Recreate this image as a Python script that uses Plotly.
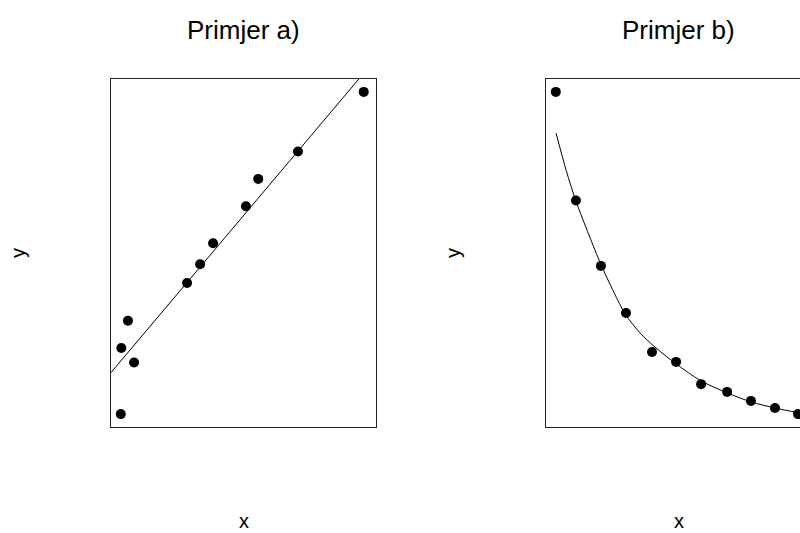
import plotly.graph_objects as go

# ---- data ----
# Example a) : scatter with a fitted straight line
a_x = [0.00, 0.02, 0.29, 0.54, 2.70, 3.23, 3.76, 5.10, 5.60, 7.22, 9.90]
a_y = [0.00, 2.05, 2.90, 1.60, 4.07, 4.65, 5.30, 6.45, 7.30, 8.15, 10.00]
a_intercept = 1.65
a_slope = 0.902

# Example b) : scatter with a fitted decaying curve
b_x = [1.00, 1.82, 2.84, 3.86, 4.92, 5.90, 6.92, 7.98, 8.95, 9.93, 10.87]
b_y = [10.00, 6.63, 4.60, 3.14, 1.93, 1.62, 0.93, 0.69, 0.41, 0.19, 0.00]
curve_x = [1.01, 1.42, 1.82, 2.35, 2.83, 3.36, 3.85, 4.43, 5.04, 5.90, 6.92, 7.98, 8.95, 9.93, 10.95, 11.40]
curve_y = [8.72, 7.57, 6.61, 5.56, 4.66, 3.79, 3.08, 2.52, 2.08, 1.56, 1.03, 0.66, 0.38, 0.19, 0.03, -0.06]

titles = ["Primjer a)", "Primjer b)"]
x_label = "x"
y_label = "y"

# axis ranges (R-style 4% padding)
a_xrange = [-0.4, 10.4]
b_xrange = [0.6, 10.95]
yrange = [-0.4, 10.4]

W, H = 800, 533
FONT = "Liberation Sans, Arial, sans-serif"


def px(v):
    return v / W


def py(v):
    return 1 - v / H


fig = go.Figure()

fig.add_trace(go.Scatter(
    x=a_x, y=a_y, mode="markers", xaxis="x", yaxis="y",
    marker=dict(color="black", size=10), showlegend=False, cliponaxis=True))
line_x = a_xrange
line_y = [a_intercept + a_slope * v for v in line_x]
fig.add_trace(go.Scatter(
    x=line_x, y=line_y, mode="lines", xaxis="x", yaxis="y",
    line=dict(color="black", width=1), showlegend=False))

fig.add_trace(go.Scatter(
    x=curve_x, y=curve_y, mode="lines", xaxis="x2", yaxis="y2",
    line=dict(color="black", width=1, shape="spline", smoothing=0.8), showlegend=False))
fig.add_trace(go.Scatter(
    x=b_x, y=b_y, mode="markers", xaxis="x2", yaxis="y2",
    marker=dict(color="black", size=10), showlegend=False, cliponaxis=True))

box_top, box_bot = 79, 427
ydom = [py(box_bot), py(box_top)]
ax_common = dict(showgrid=False, zeroline=False, showticklabels=False, ticks="",
                 showline=True, linecolor="#222", linewidth=1, fixedrange=True)

fig.update_layout(
    width=W, height=H,
    margin=dict(l=0, r=0, t=0, b=0),
    paper_bgcolor="white", plot_bgcolor="white",
    hovermode=False,
    xaxis=dict(domain=[px(111), px(376)], range=a_xrange, mirror=True, anchor="y", **ax_common),
    yaxis=dict(domain=ydom, range=yrange, mirror=True, anchor="x", **ax_common),
    xaxis2=dict(domain=[px(546), 1.0], range=b_xrange, mirror=True, anchor="y2", **ax_common),
    yaxis2=dict(domain=ydom, range=yrange, mirror=False, anchor="x2", **ax_common),
)

centers = [(111 + 376) / 2, (546 + 811) / 2]
left_edges = [111, 546]
ann = []
for t, cx, le in zip(titles, centers, left_edges):
    ann.append(dict(text=t, x=px(cx), y=py(30), xref="paper", yref="paper",
                    showarrow=False, xanchor="center", yanchor="middle",
                    font=dict(family=FONT, size=26, color="black")))
    ann.append(dict(text=x_label, x=px(cx), y=py(521), xref="paper", yref="paper",
                    showarrow=False, xanchor="center", yanchor="middle",
                    font=dict(family=FONT, size=20, color="black")))
    ann.append(dict(text=y_label, x=px(le - 93), y=py(253), xref="paper", yref="paper",
                    showarrow=False, xanchor="center", yanchor="middle", textangle=-90,
                    font=dict(family=FONT, size=20, color="black")))
fig.update_layout(annotations=ann)

fig.write_html(
    "out.html",
    config={"displayModeBar": False},
    post_script="document.body.style.margin='0';document.body.style.overflow='hidden';",
)
